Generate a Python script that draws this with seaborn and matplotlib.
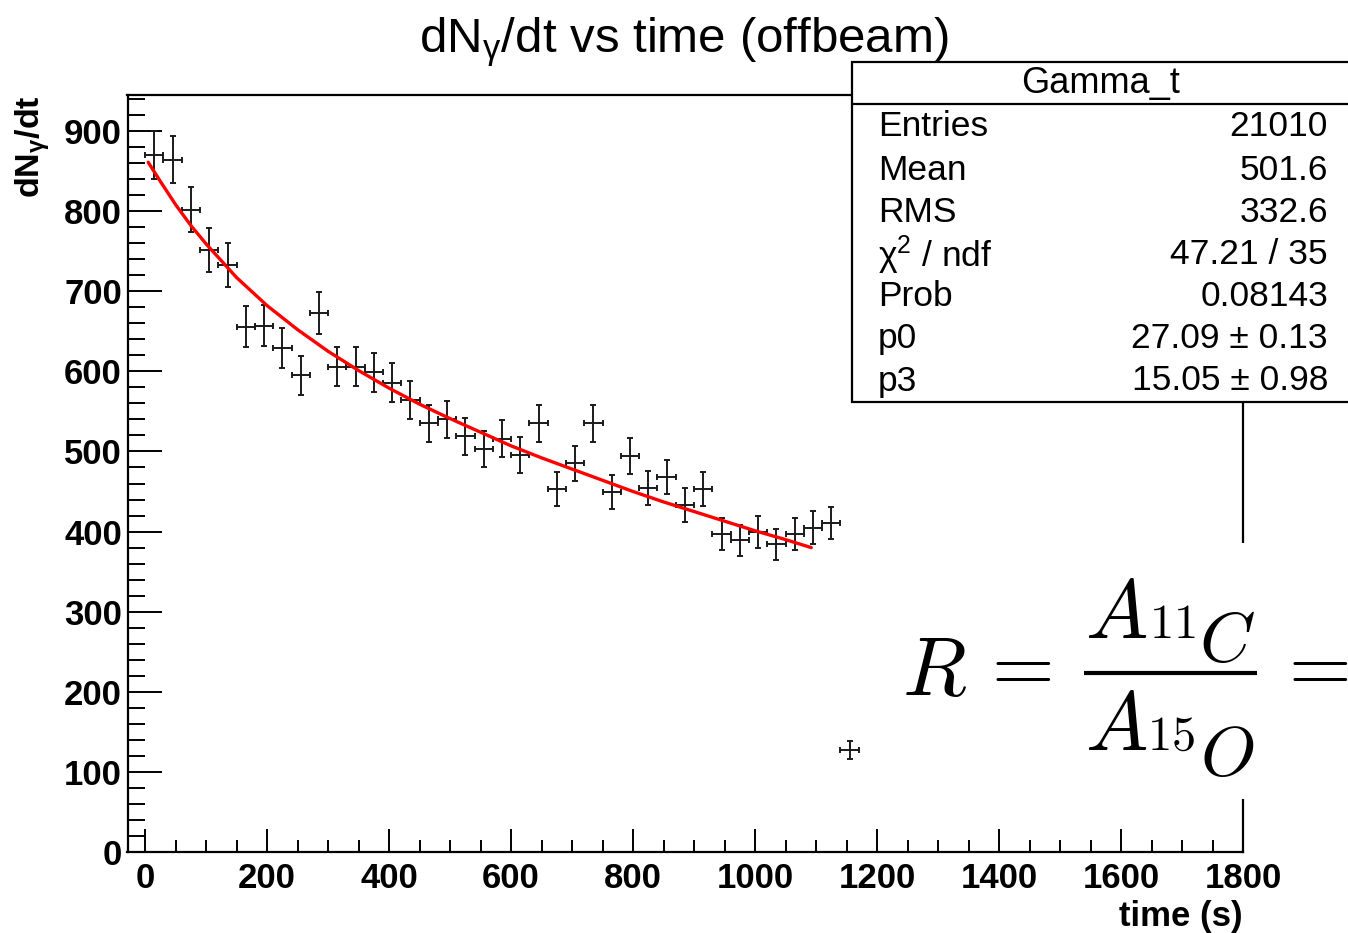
import numpy as np
import pandas as pd
import matplotlib
matplotlib.use("Agg")
import matplotlib.pyplot as plt
import seaborn as sns
from matplotlib.patches import Rectangle
from matplotlib.lines import Line2D
from matplotlib.ticker import MultipleLocator

# ---------------- data ----------------
bin_centers = [15, 45, 75, 105, 135, 165, 195, 225, 255, 285, 315, 345, 375, 405,
               435, 465, 495, 525, 555, 585, 615, 645, 675, 705, 735, 765, 795, 825,
               855, 885, 915, 945, 975, 1005, 1035, 1065, 1095, 1125, 1155]
rate = [870, 864, 802, 752, 733, 656, 657, 629, 595, 673, 606, 606, 599, 586,
        564, 535, 540, 519, 503, 516, 496, 535, 453, 485, 535, 449, 494, 454,
        468, 433, 453, 397, 389, 400, 384, 397, 405, 411, 127]
rate_err = [29.5, 29.4, 28.3, 27.4, 27.1, 25.6, 25.6, 25.1, 24.4, 25.9, 24.6, 24.6, 24.5, 24.2,
            23.7, 23.1, 23.2, 22.8, 22.4, 22.7, 22.3, 23.1, 21.3, 22.0, 23.1, 21.2, 22.2, 21.3,
            21.6, 20.8, 21.3, 19.9, 19.7, 20.0, 19.6, 19.9, 20.1, 20.3, 11.3]
bin_half_width = [15] * len(bin_centers)

fit_time = [5, 25, 50, 75, 100, 150, 200, 250, 300, 350, 400, 450, 500, 550, 600,
            650, 700, 750, 800, 850, 900, 950, 1000, 1050, 1092]
fit_rate = [861, 837, 808, 782, 759, 717, 682, 652, 625, 601, 579, 559, 541, 524, 507,
            492, 478, 464, 450, 437, 425, 413, 401, 390, 380]

x_ticks = [0, 200, 400, 600, 800, 1000, 1200, 1400, 1600, 1800]
y_ticks = [0, 100, 200, 300, 400, 500, 600, 700, 800, 900]

stats_title = "Gamma_t"
stats_labels = ["Entries", "Mean", "RMS", "χ$^{\\mathregular{2}}$ / ndf", "Prob", "p0", "p3"]
stats_values = ["21010", "501.6", "332.6", "47.21 / 35", "0.08143", "27.09 ± 0.13", "15.05 ± 0.98"]

title_text = "dN$_{\\mathregular{γ}}$/dt vs time (offbeam)"
xlabel_text = "time (s)"
ylabel_text = "dN$_{\\mathregular{γ}}$/dt"

# equation R = A_{11 C} / A_{15 O} =
eq_lhs = "$R$"
eq_eq = "$=$"
num_parts = ["$A$", "$11$", "$C$"]
den_parts = ["$A$", "$15$", "$O$"]

# ---------------- style ----------------
sns.set_style("white")
plt.rcParams["font.family"] = ["Liberation Sans", "DejaVu Sans"]
plt.rcParams["mathtext.fontset"] = "custom"
plt.rcParams["mathtext.rm"] = "Liberation Sans"
plt.rcParams["mathtext.it"] = "Liberation Sans:italic"
plt.rcParams["mathtext.bf"] = "Liberation Sans:bold"
for k in ["text.color", "axes.labelcolor", "xtick.color", "ytick.color", "axes.edgecolor"]:
    plt.rcParams[k] = "black"

W, H = 1348, 933
fig = plt.figure(figsize=(W / 100, H / 100), dpi=100)
fig.patch.set_facecolor("white")


def fx(px):
    return px / W


def fy(py):
    return 1 - py / H


L, R_, T, B = 127.5, 1243, 95, 852
ax = fig.add_axes([fx(L), fy(B), (R_ - L) / W, (B - T) / H])
ax.set_facecolor("white")

# data points with error bars (ROOT E1 style)
ax.errorbar(bin_centers, rate, yerr=rate_err, xerr=bin_half_width, fmt="none",
            ecolor="#1a1a1a", elinewidth=1.4, capsize=2.5, capthick=1.4, zorder=3)

# fit curve
fit_df = pd.DataFrame({"time": fit_time, "rate": fit_rate})
sns.lineplot(data=fit_df, x="time", y="rate", ax=ax, color="#ff0000", lw=2.4,
             sort=False, zorder=4)

ax.set_xlim(-29, 1800)
ax.set_ylim(0, 945)
ax.set_xticks(x_ticks)
ax.set_yticks(y_ticks)
ax.xaxis.set_minor_locator(MultipleLocator(50))
ax.yaxis.set_minor_locator(MultipleLocator(20))
ax.tick_params(axis="x", which="major", direction="in", length=16.5, width=1.4,
               labelsize=25, pad=7, colors="black")
ax.tick_params(axis="x", which="minor", direction="in", length=8.3, width=1.4)
ax.tick_params(axis="y", which="major", direction="in", length=24.5, width=1.4,
               labelsize=25, pad=4, colors="black")
ax.tick_params(axis="y", which="minor", direction="in", length=12.2, width=1.4)
ax.tick_params(top=False, right=False, bottom=True, left=True, which="both")
for lab in ax.get_xticklabels() + ax.get_yticklabels():
    lab.set_fontweight("bold")
for sp in ax.spines.values():
    sp.set_color("black")
    sp.set_linewidth(1.6)

ax.set_xlabel(xlabel_text, loc="right", fontsize=25, fontweight="bold", labelpad=4)
ax.set_ylabel(ylabel_text, loc="top", fontsize=24.5, fontweight="bold", labelpad=9)

# title
fig.text(fx(684), fy(52), title_text, fontsize=35.5, ha="center", va="baseline")

# stats box
fig.add_artist(Rectangle((fx(852), fy(402)), fx(1420) - fx(852), fy(62) - fy(402),
                         transform=fig.transFigure, facecolor="white",
                         edgecolor="black", lw=1.6, zorder=5))
fig.add_artist(Line2D([fx(852), fx(1420)], [fy(104), fy(104)],
                      transform=fig.transFigure, color="black", lw=1.6, zorder=6))
fig.text(fx(1101), fy(83), stats_title, fontsize=26, ha="center", va="center", zorder=7)
row_y = [127, 170, 213, 255, 297, 338, 381]
for yy, lab, val in zip(row_y, stats_labels, stats_values):
    fig.text(fx(878), fy(yy), lab, fontsize=25.5, ha="left", va="center", zorder=7)
    fig.text(fx(1328), fy(yy), val, fontsize=25.5, ha="right", va="center", zorder=7)

# equation overlay (white background)
fig.add_artist(Rectangle((fx(885), fy(799)), fx(1400) - fx(885), fy(543) - fy(799),
                         transform=fig.transFigure, facecolor="white",
                         edgecolor="none", zorder=8))
eqkw = dict(math_fontfamily="cm", ha="left", va="baseline", zorder=9)
fig.text(fx(902), fy(695), eq_lhs, fontsize=60, **eqkw)
fig.text(fx(977), fy(690), eq_eq, fontsize=58, **eqkw)
fig.text(fx(1274), fy(690), eq_eq, fontsize=58, **eqkw)
# numerator
fig.text(fx(1085), fy(638), num_parts[0], fontsize=60, **eqkw)
fig.text(fx(1149), fy(638), num_parts[1], fontsize=35, **eqkw)
fig.text(fx(1199), fy(661), num_parts[2], fontsize=51, **eqkw)
# denominator
fig.text(fx(1085), fy(750), den_parts[0], fontsize=60, **eqkw)
fig.text(fx(1147), fy(750), den_parts[1], fontsize=35, **eqkw)
fig.text(fx(1200), fy(775), den_parts[2], fontsize=51, **eqkw)
# fraction bar
fig.add_artist(Line2D([fx(1084), fx(1257)], [fy(673), fy(673)],
                      transform=fig.transFigure, color="black", lw=3.0,
                      solid_capstyle="butt", zorder=9))

fig.savefig("out.png", dpi=100, facecolor="white")
